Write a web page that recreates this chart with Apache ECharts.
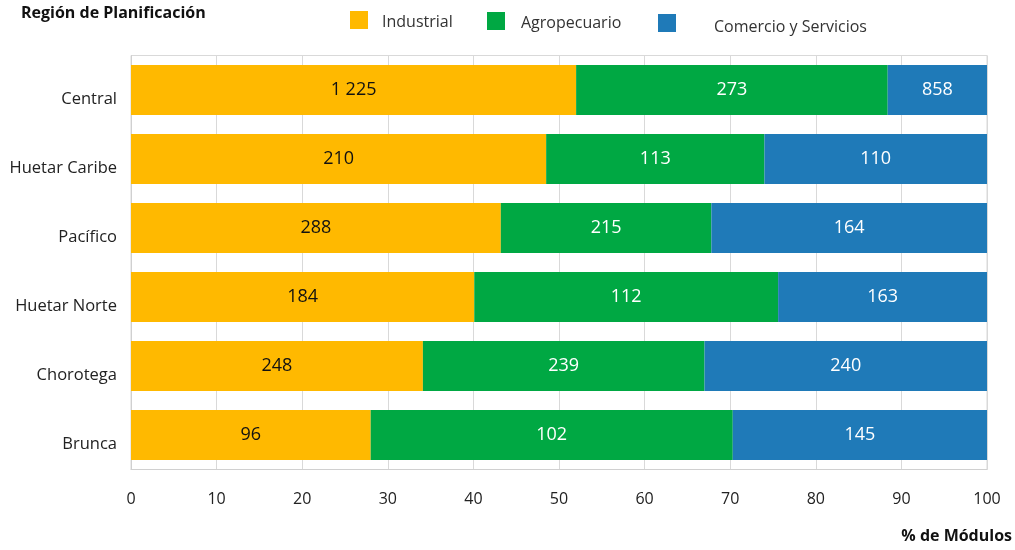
<!DOCTYPE html>
<html>
<head>
<meta charset="utf-8">
<script src="https://cdn.jsdelivr.net/npm/echarts@6/dist/echarts.min.js"></script>
<style>
html,body{margin:0;padding:0;background:#fff;}
#chart{width:1015px;height:550px;}
</style>
</head>
<body>
<div id="chart"></div>
<script>
// Categories (top to bottom)
const regions = ["Central", "Huetar Caribe", "Pacífico", "Huetar Norte", "Chorotega", "Brunca"];
const seriesNames = ["Industrial", "Agropecuario", "Comercio y Servicios"];
// Bar lengths, % of modules
const industrialPct = [52.0, 48.5, 43.2, 40.1, 34.1, 28.0];
const agroPct       = [36.4, 25.5, 24.6, 35.5, 32.9, 42.3];
const comercioPct   = [11.6, 26.0, 32.2, 24.4, 33.0, 29.7];
// Labels shown on the bars (counts)
const industrialLbl = ["1 225", "210", "288", "184", "248", "96"];
const agroLbl       = ["273", "113", "215", "112", "239", "102"];
const comercioLbl   = ["858", "110", "164", "163", "240", "145"];
const xTicks = [0, 10, 20, 30, 40, 50, 60, 70, 80, 90, 100];

const FONT = "Open Sans";
const colors = ["#FFB900", "#00A843", "#1F7AB8"];

// category axis is drawn bottom-up, so reverse everything
const cats = regions.slice().reverse();

function mk(name, pct, lbl, color, textColor) {
  const L = lbl.slice().reverse();
  return {
    name: name,
    type: "bar",
    stack: "total",
    barWidth: 50,
    itemStyle: { color: color },
    label: {
      show: true,
      position: "inside",
      color: textColor,
      fontFamily: FONT,
      fontSize: 18,
      formatter: p => L[p.dataIndex]
    },
    data: pct.slice().reverse()
  };
}

const chart = echarts.init(document.getElementById("chart"), null, {renderer: "canvas"});
const legendBase = {
  itemWidth: 18, itemHeight: 18, padding: 0,
  icon: "rect"
};
function legTxt(padLeft, padTop) {
  return { fontFamily: FONT, fontSize: 16, color: "#333",
    rich: { t: { fontFamily: FONT, fontSize: 16, color: "#333", padding: [padTop, 0, 0, padLeft] } } };
}
const legFmt = n => "{t|" + n + "}";
chart.setOption({
  animation: false,
  color: colors,
  title: [
    { text: "Región de Planificación", left: 21, top: 5, padding: 0,
      textStyle: { fontFamily: FONT, fontSize: 16, fontWeight: "bold", color: "#111" } },
    { text: "% de Módulos", right: 3, top: 528, padding: 0,
      textStyle: { fontFamily: FONT, fontSize: 16, fontWeight: "bold", color: "#111" } }
  ],
  legend: [
    Object.assign({}, legendBase, { data: [seriesNames[0]], left: 350, top: 11, formatter: legFmt, textStyle: legTxt(9, 4) }),
    Object.assign({}, legendBase, { data: [seriesNames[1]], left: 487, top: 12, formatter: legFmt, textStyle: legTxt(11, 4) }),
    Object.assign({}, legendBase, { data: [seriesNames[2]], left: 658, top: 14, formatter: legFmt, textStyle: legTxt(33, 8) })
  ],
  grid: { left: 131, right: 28, top: 55.5, height: 414, show: true, borderColor: "#d9d9d9", borderWidth: 1 },
  xAxis: {
    type: "value", min: 0, max: 100, interval: 10,
    axisLine: { show: true, lineStyle: { color: "#d0d0d0" } },
    axisTick: { show: false },
    splitLine: { show: true, lineStyle: { color: "#d9d9d9" } },
    axisLabel: { fontFamily: FONT, fontSize: 16, color: "#222", margin: 22,
      formatter: v => xTicks.indexOf(v) >= 0 ? String(v) : "" }
  },
  yAxis: {
    type: "category", data: cats,
    axisLine: { show: true, lineStyle: { color: "#d0d0d0" } },
    axisTick: { show: false },
    axisLabel: { fontFamily: FONT, fontSize: 16.5, color: "#222", margin: 14,
      verticalAlign: "top", lineHeight: 18 }
  },
  series: [
    mk(seriesNames[0], industrialPct, industrialLbl, colors[0], "#111"),
    mk(seriesNames[1], agroPct, agroLbl, colors[1], "#fff"),
    mk(seriesNames[2], comercioPct, comercioLbl, colors[2], "#fff")
  ]
});
</script>
</body>
</html>
